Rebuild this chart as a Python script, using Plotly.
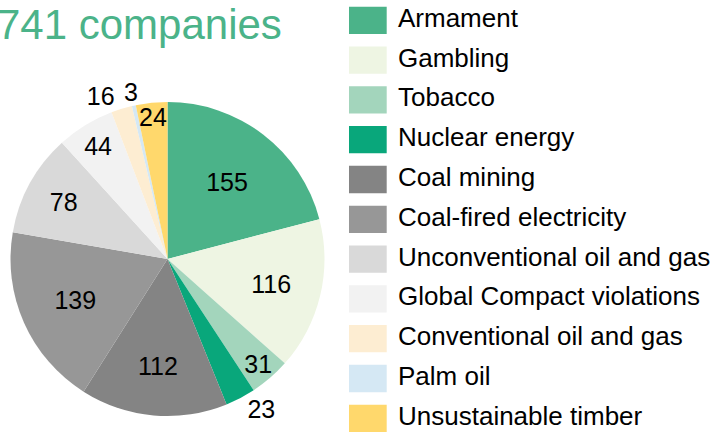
import math
import plotly.graph_objects as go

categories = ["Armament", "Gambling", "Tobacco", "Nuclear energy", "Coal mining",
              "Coal-fired electricity", "Unconventional oil and gas",
              "Global Compact violations", "Conventional oil and gas", "Palm oil",
              "Unsustainable timber"]
values = [155, 116, 31, 23, 112, 139, 78, 44, 16, 3, 24]
colors = ["#4BB389", "#EEF5E3", "#A3D5BC", "#09A77B", "#848484", "#979797",
          "#D9D9D9", "#F2F2F2", "#FDEDD2", "#D5E8F4", "#FFD86C"]
label_pos = ["inside", "inside", "inside", "outside", "inside", "inside",
             "inside", "inside", "outside", "none", "inside"]
title_text = "741 companies"

W, H = 720, 433
FONT = "Liberation Sans"
# pie geometry in pixels
CX, CY, R = 167.5, 259.0, 157.0
pie_domain = dict(x=[(CX - R) / W, (CX + R) / W], y=[(H - CY - R) / H, (H - CY + R) / H])

fig = go.Figure()

fig.add_trace(go.Pie(
    labels=categories, values=values, sort=False, direction="clockwise",
    rotation=0, marker=dict(colors=colors, line=dict(width=0)),
    textinfo="value", textposition=label_pos,
    insidetextorientation="horizontal",
    textfont=dict(size=25, color="black", family=FONT),
    domain=pie_domain, showlegend=False, hoverinfo="label+value",
))

# legend drawn as a small bar chart of colour swatches
fig.add_trace(go.Bar(
    y=categories, x=[1] * len(categories), orientation="h",
    marker=dict(color=colors, line=dict(width=0)),
    xaxis="x2", yaxis="y2", showlegend=False, hoverinfo="skip",
))
fig.add_trace(go.Scatter(
    y=categories, x=[1.3] * len(categories), mode="text", text=categories,
    textposition="middle right", textfont=dict(size=26, color="black", family=FONT),
    xaxis="x2", yaxis="y2", showlegend=False, hoverinfo="skip", cliponaxis=False,
))

# labels of slices whose text is not drawn by the pie itself: placed on the
# slice's mid-angle just outside the rim
annotations = []
total = sum(values)
cum = 0
for cat, v, pos in zip(categories, values, label_pos):
    if pos == "none":
        mid = math.radians((cum + v / 2) / total * 360)
        rl = R * 1.09
        px = CX + rl * math.sin(mid)
        py = CY - rl * math.cos(mid)
        annotations.append(dict(
            text=str(v), xref="paper", yref="paper", x=px / W, y=1 - py / H,
            xanchor="center", yanchor="middle", showarrow=False,
            font=dict(size=25, color="black", family=FONT),
        ))
    cum += v

annotations.append(dict(
    text=title_text, xref="paper", yref="paper", x=-5.5 / W, y=1 - 24.5 / H,
    xanchor="left", yanchor="middle", showarrow=False,
    font=dict(size=42, color="#4BB389", family=FONT),
))

step = 39.8
first = 20.3
fig.update_layout(
    width=W, height=H, margin=dict(l=0, r=0, t=0, b=0),
    paper_bgcolor="white", plot_bgcolor="white",
    font=dict(family=FONT),
    bargap=1 - 27.3 / step,
    uniformtext=dict(minsize=25, mode="show"),
    xaxis2=dict(domain=[349 / W, 1], range=[0, (W - 349) / 37.7], visible=False,
                fixedrange=True),
    yaxis2=dict(domain=[0, 1], type="category", categoryorder="array",
                categoryarray=categories,
                range=[(H - first) / step, -first / step], visible=False,
                fixedrange=True),
    annotations=annotations,
)

fig.write_html("out.html", post_script="document.body.style.margin='0px';",
               config={"displayModeBar": False})
